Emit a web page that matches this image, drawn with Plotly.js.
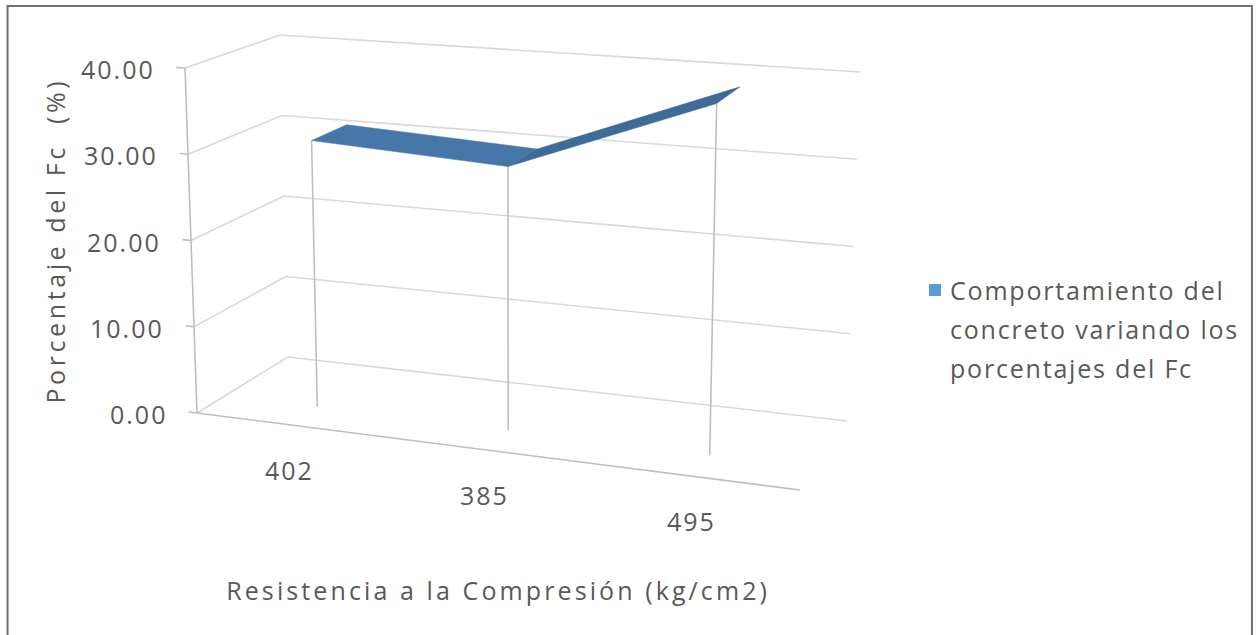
<!DOCTYPE html>
<html>
<head>
<meta charset="utf-8">
<script src="https://cdn.plot.ly/plotly-3.0.1.min.js"></script>
<style>
html,body{margin:0;padding:0;background:#fff;}
#chart{width:1258px;height:635px;}
</style>
</head>
<body>
<div id="chart"></div>
<script>
// ---------------- data ----------------
const categories = ['402', '385', '495'];
const values = [31.1, 30.0, 38.9];
const valueTicks = [0, 10, 20, 30, 40];
const seriesName = 'Comportamiento del concreto variando los porcentajes del Fc';
const legendLines = ['Comportamiento del', 'concreto variando los', 'porcentajes del Fc'];
const xTitle = 'Resistencia a la Compresión (kg/cm2)';
const yTitle = 'Porcentaje del Fc  (%)';

// ---------------- 3D frame geometry (pixel space of the plot) ----------------
const W = 1258, H = 635;
const vMin = 0, vMax = 40;
const nCat = categories.length;
// projected corners of the 3D plot box: b = value min, t = value max
const corner = {
  FL: {b: [197, 413], t: [185, 68],  z: 0.934},
  FR: {b: [800, 490], t: [810, 115], z: 0.859},
  BL: {b: [288, 357], t: [280, 35],  z: 1.0},
  BR: {b: [847, 421], t: [860, 72],  z: 0.925}
};
// perspective projection: c = category coordinate (0..nCat), d = depth (0 front..1 back), v = value
function project(c, d, v) {
  const u = c / nCat;
  const w = {
    FL: (1 - u) * (1 - d) * corner.FL.z,
    FR: u * (1 - d) * corner.FR.z,
    BL: (1 - u) * d * corner.BL.z,
    BR: u * d * corner.BR.z
  };
  let s = 0, bx = 0, by = 0, tx = 0, ty = 0;
  for (const k in w) {
    s += w[k];
    bx += w[k] * corner[k].b[0]; by += w[k] * corner[k].b[1];
    tx += w[k] * corner[k].t[0]; ty += w[k] * corner[k].t[1];
  }
  bx /= s; by /= s; tx /= s; ty /= s;
  const f = (v - vMin) / (vMax - vMin);
  return [bx + f * (tx - bx), by + f * (ty - by)];
}

const gridColor = '#d9d9d9';
const axisColor = '#bfbfbf';
const textColor = '#595959';
const font = 'Open Sans, Noto Sans, sans-serif';

const traces = [];
function seg(p, q, color, width) {
  traces.push({
    type: 'scatter', mode: 'lines', x: [p[0], q[0]], y: [p[1], q[1]],
    line: {color: color, width: width}, hoverinfo: 'skip', showlegend: false
  });
}

// value gridlines on back wall and left wall
valueTicks.forEach(t => {
  seg(project(0, 0, t), project(0, 1, t), gridColor, 1.6);
  seg(project(0, 1, t), project(nCat, 1, t), gridColor, 1.6);
});
// value axis line + tick marks
seg(project(0, 0, vMin), project(0, 0, vMax), axisColor, 1.6);
valueTicks.forEach(t => seg(project(-0.045, 0, t), project(0, 0, t), axisColor, 1.6));
// category axis line (front floor edge)
seg(project(0, 0, vMin), project(nCat, 0, vMin), axisColor, 1.6);

// ribbon depth
const dFront = 0.3, dBack = 0.7;
// vertical lines at each category
values.forEach((v, i) => seg(project(i + 0.5, dFront, vMin), project(i + 0.5, dFront, v), axisColor, 1.6));

// ribbon (3D line) segments
const ribbonColors = ['#4677a8', '#3e6b97'];
for (let i = 0; i < nCat - 1; i++) {
  const a = project(i + 0.5, dFront, values[i]);
  const b = project(i + 1.5, dFront, values[i + 1]);
  const c = project(i + 1.5, dBack, values[i + 1]);
  const d = project(i + 0.5, dBack, values[i]);
  traces.push({
    type: 'scatter', mode: 'lines', fill: 'toself',
    x: [a[0], b[0], c[0], d[0], a[0]], y: [a[1], b[1], c[1], d[1], a[1]],
    fillcolor: ribbonColors[i % ribbonColors.length],
    line: {color: ribbonColors[i % ribbonColors.length], width: 0.5},
    name: seriesName, hoverinfo: 'skip', showlegend: false
  });
}

// ---------------- texts ----------------
const annotations = [];
const spacing = [];   // letter spacing (px) of each annotation
valueTicks.forEach(t => {
  const p = project(0, 0, t);
  annotations.push({x: p[0], y: p[1], xref: 'x', yref: 'y', text: t.toFixed(2), showarrow: false,
    xanchor: 'right', align: 'right', yanchor: 'middle', xshift: -28, yshift: -1,
    font: {family: font, size: 25, color: textColor}});
  spacing.push(2);
});
categories.forEach((c, i) => {
  const p = project(i + 0.5, 0, vMin);
  annotations.push({x: p[0], y: p[1], xref: 'x', yref: 'y', text: c, showarrow: false,
    xanchor: 'center', yanchor: 'middle', xshift: -1, yshift: -45,
    font: {family: font, size: 25, color: textColor}});
  spacing.push(2);
});
annotations.push({x: 498, y: 590, xref: 'x', yref: 'y', text: xTitle, showarrow: false,
  xanchor: 'center', yanchor: 'middle', font: {family: font, size: 25, color: textColor}});
spacing.push(3.1);
annotations.push({x: 55, y: 241, xref: 'x', yref: 'y', text: yTitle, showarrow: false, textangle: -90,
  xanchor: 'center', yanchor: 'middle', font: {family: font, size: 25, color: textColor}});
spacing.push(3.6);
// legend
const legendX = 948, legendY0 = 290, legendStep = 39;
legendLines.forEach((ln, i) => {
  annotations.push({x: legendX, y: legendY0 + i * legendStep, xref: 'x', yref: 'y', text: ln, showarrow: false,
    xanchor: 'left', align: 'left', yanchor: 'middle', font: {family: font, size: 25, color: textColor}});
  spacing.push(1.8);
});

const shapes = [
  {type: 'rect', xref: 'x', yref: 'y', x0: 929, x1: 941, y0: legendY0 - 6, y1: legendY0 + 6,
    fillcolor: '#5b9bd5', line: {width: 0}},
  {type: 'path', xref: 'paper', yref: 'paper',
    path: 'M 0.006 -0.05 L 0.006 0.9905 L 0.9952 0.9905 L 0.9952 -0.05',
    line: {color: '#707070', width: 2}}
];

const layout = {
  width: W, height: H,
  margin: {l: 0, r: 0, t: 0, b: 0},
  paper_bgcolor: '#ffffff', plot_bgcolor: '#ffffff',
  xaxis: {range: [0, W], visible: false, fixedrange: true},
  yaxis: {range: [H, 0], visible: false, fixedrange: true},
  showlegend: false,
  annotations: annotations,
  shapes: shapes
};

Plotly.newPlot('chart', traces, layout, {staticPlot: true, displayModeBar: false}).then(gd => {
  gd.querySelectorAll('.annotation').forEach(g => {
    const idx = +g.getAttribute('data-index');
    const ls = spacing[idx];
    if (ls) g.querySelectorAll('text').forEach(t => { t.style.letterSpacing = ls + 'px'; });
  });
});
</script>
</body>
</html>
